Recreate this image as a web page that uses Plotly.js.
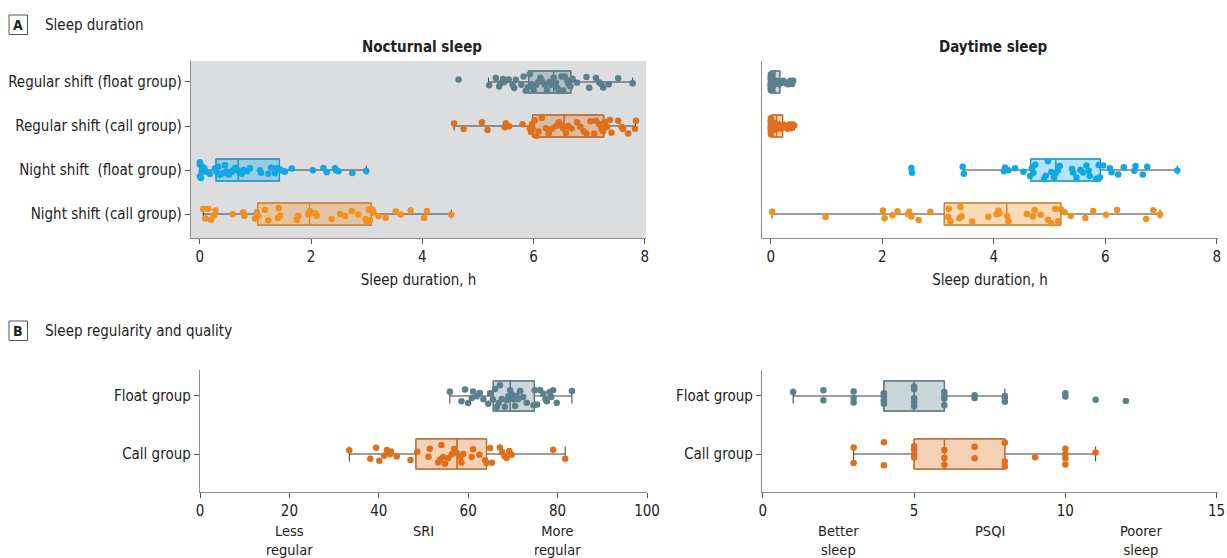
<!DOCTYPE html>
<html><head><meta charset="utf-8">
<script src="https://cdn.plot.ly/plotly-3.0.1.min.js"></script>
<style>html,body{margin:0;padding:0;background:#fff}#chart{width:1227px;height:558px}</style>
</head><body><div id="chart"></div><script>
// ---------- categories ----------
const durationCats = ['Night shift (call group)', 'Night shift\u00a0 (float group)', 'Regular shift (call group)', 'Regular shift (float group)'];
const groupCats = ['Call group', 'Float group'];
const durationTicks = [0, 2, 4, 6, 8];
const sriTicks = [0, 20, 40, 60, 80, 100];
const psqiTicks = [0, 5, 10, 15];

// ---------- nocturnal sleep (h) ----------
const nocNightCall = [0.06, 0.10, 0.15, 0.20, 0.25, 0.28, 0.59, 0.78, 0.80, 0.99, 1.02, 1.05, 1.17, 1.23, 1.40, 1.42, 1.44, 1.74, 1.77, 1.95, 1.98, 2.07, 2.10, 2.37, 2.52, 2.61, 2.73, 2.85, 2.98, 3.00, 3.04, 3.06, 3.10, 3.12, 3.21, 3.34, 3.52, 3.61, 3.79, 4.03, 4.08, 4.52];
const nocNightFloat = [0, 0, 0, 0.02, 0.03, 0.05, 0.06, 0.08, 0.10, 0.18, 0.27, 0.30, 0.33, 0.36, 0.42, 0.45, 0.48, 0.52, 0.57, 0.60, 0.64, 0.66, 0.70, 0.75, 0.78, 0.85, 0.90, 1.08, 1.10, 1.23, 1.28, 1.35, 1.38, 1.44, 1.50, 1.53, 1.65, 2.03, 2.22, 2.28, 2.43, 2.45, 2.49, 2.74, 2.99];
const nocRegCall = [4.57, 4.74, 5.07, 5.17, 5.48, 5.50, 5.56, 5.80, 5.93, 5.95, 5.97, 5.98, 6.02, 6.05, 6.09, 6.15, 6.22, 6.27, 6.33, 6.40, 6.45, 6.50, 6.53, 6.58, 6.62, 6.68, 6.78, 6.84, 6.90, 6.95, 7.02, 7.09, 7.12, 7.18, 7.22, 7.25, 7.28, 7.32, 7.37, 7.40, 7.52, 7.58, 7.61, 7.70, 7.82, 7.84];
const nocRegFloat = [4.65, 5.20, 5.32, 5.38, 5.40, 5.45, 5.47, 5.55, 5.62, 5.65, 5.68, 5.78, 5.82, 5.86, 5.90, 5.93, 5.96, 6.00, 6.04, 6.08, 6.12, 6.15, 6.20, 6.24, 6.28, 6.32, 6.36, 6.40, 6.43, 6.46, 6.50, 6.53, 6.56, 6.60, 6.63, 6.66, 6.70, 6.78, 6.95, 7.00, 7.12, 7.18, 7.22, 7.25, 7.35, 7.52, 7.78];
// box statistics, same order as durationCats
const nocQ1 = [1.04, 0.29, 5.98, 5.91];
const nocMed = [1.97, 0.69, 6.55, 6.36];
const nocQ3 = [3.08, 1.43, 7.26, 6.67];
const nocLo = [0.06, 0.00, 4.57, 5.19];
const nocHi = [4.52, 2.99, 7.83, 7.78];

// ---------- daytime sleep (h) ----------
const dayNightCall = [0.02, 0.98, 2.01, 2.04, 2.18, 2.27, 2.46, 2.48, 2.52, 2.65, 2.86, 3.18, 3.19, 3.22, 3.38, 3.40, 3.42, 3.61, 3.90, 4.05, 4.08, 4.10, 4.24, 4.26, 4.59, 4.70, 4.73, 4.84, 4.97, 5.03, 5.10, 5.15, 5.20, 5.27, 5.38, 5.64, 5.78, 6.01, 6.21, 6.73, 6.86, 6.98];
const dayNightFloat = [2.52, 2.53, 3.44, 3.46, 4.18, 4.20, 4.26, 4.38, 4.53, 4.65, 4.68, 4.71, 4.74, 4.90, 4.93, 4.97, 5.03, 5.08, 5.11, 5.15, 5.18, 5.40, 5.42, 5.48, 5.55, 5.60, 5.66, 5.70, 5.72, 5.84, 5.88, 5.90, 5.96, 6.08, 6.11, 6.23, 6.33, 6.52, 6.54, 6.67, 6.75, 7.29];
const dayRegCall = [0, 0, 0, 0, 0, 0, 0, 0, 0, 0, 0, 0, 0.02, 0.04, 0.05, 0.07, 0.08, 0.10, 0.11, 0.12, 0.14, 0.15, 0.17, 0.18, 0.20, 0.21, 0.23, 0.25, 0.28, 0.30, 0.33, 0.36, 0.39, 0.42];
const dayRegFloat = [0, 0, 0, 0, 0, 0, 0, 0, 0, 0, 0, 0, 0, 0, 0, 0.02, 0.04, 0.05, 0.07, 0.08, 0.10, 0.12, 0.14, 0.15, 0.18, 0.20, 0.22, 0.25, 0.28, 0.31, 0.35, 0.38, 0.40];
const dayQ1 = [3.11, 4.66, 0.01, 0.00];
const dayMed = [4.23, 5.11, 0.10, 0.07];
const dayQ3 = [5.20, 5.91, 0.21, 0.16];
const dayLo = [0.02, 3.45, 0.00, 0.00];
const dayHi = [6.98, 7.29, 0.42, 0.40];

// ---------- SRI ----------
const sriCall = [33.4, 38.1, 39.4, 40.1, 41.2, 41.8, 42.5, 42.7, 44.0, 47.1, 48.6, 51.1, 51.4, 53.3, 53.7, 54.0, 54.4, 54.8, 55.5, 56.3, 56.8, 57.4, 58.2, 58.5, 58.9, 60.8, 61.1, 62.5, 63.8, 64.1, 64.9, 65.3, 67.1, 67.6, 68.1, 68.6, 69.2, 69.7, 79.0, 81.7];
const sriFloat = [55.9, 58.5, 59.3, 60.0, 60.8, 61.1, 61.9, 62.6, 63.4, 64.5, 64.9, 65.5, 66.0, 66.4, 66.8, 67.1, 67.5, 68.2, 68.6, 69.0, 69.4, 69.8, 70.2, 70.5, 70.8, 71.2, 71.6, 72.3, 73.1, 74.6, 74.9, 75.4, 76.1, 76.8, 77.3, 77.6, 78.2, 78.6, 79.0, 79.8, 83.2];
const sriQ1 = [48.3, 65.6];
const sriMed = [57.5, 69.4];
const sriQ3 = [64.1, 74.8];
const sriLo = [33.4, 55.9];
const sriHi = [81.7, 83.2];

// ---------- PSQI ----------
const psqiCall = [3, 3, 4, 4, 5, 5, 5, 5, 6, 6, 6, 7, 7, 8, 8, 8, 9, 10, 10, 10, 10, 11];
const psqiFloat = [1, 2, 2, 3, 3, 3, 4, 4, 4, 4, 4, 4, 5, 5, 5, 5, 5, 6, 6, 6, 6, 7, 7, 8, 8, 8, 10, 10, 11, 12];
const psqiQ1 = [5, 4];
const psqiMed = [6, 5];
const psqiQ3 = [8, 6];
const psqiLo = [3, 1];
const psqiHi = [11, 8];

// ---------- styling ----------
const FONT = "'Liberation Sans Narrow', 'DejaVu Sans Condensed', 'Roboto Condensed', Roboto, Arial, sans-serif";
const C_SLATE = '91,127,141', C_ORANGE = '224,111,28', C_BLUE = '15,167,230', C_LORANGE = '244,144,30';
const W = 1227, H = 558;
const px = v => v / W, py = v => 1 - v / H;

const traces = [];
function addGroup(xa, ya, cat, samples, i, st, rgb, boxW, ww, jit) {
  // whiskers (dark grey)
  traces.push({
    type: 'box', orientation: 'h', xaxis: xa, yaxis: ya, y: [cat],
    q1: [st.q1[i]], median: [st.med[i]], q3: [st.q3[i]], lowerfence: [st.lo[i]], upperfence: [st.hi[i]],
    boxpoints: false, width: boxW, whiskerwidth: ww,
    line: { color: '#3d3d3d', width: 1 }, fillcolor: 'rgba(0,0,0,0)',
    showlegend: false, hoverinfo: 'skip'
  });
  // box + jittered points
  traces.push({
    type: 'box', orientation: 'h', xaxis: xa, yaxis: ya, y: [cat], x: [samples],
    q1: [st.q1[i]], median: [st.med[i]], q3: [st.q3[i]], lowerfence: [st.q1[i]], upperfence: [st.q3[i]],
    boxpoints: 'all', jitter: jit, pointpos: 0, width: boxW, whiskerwidth: 0,
    line: { color: 'rgba(' + rgb + ',0.75)', width: 1.4 }, fillcolor: 'rgba(' + rgb + ',0.32)',
    marker: { color: 'rgb(' + rgb + ')', size: 6.5, opacity: 1 },
    showlegend: false, hoverinfo: 'skip'
  });
}
const nocSt = { q1: nocQ1, med: nocMed, q3: nocQ3, lo: nocLo, hi: nocHi };
const daySt = { q1: dayQ1, med: dayMed, q3: dayQ3, lo: dayLo, hi: dayHi };
const sriSt = { q1: sriQ1, med: sriMed, q3: sriQ3, lo: sriLo, hi: sriHi };
const psqiSt = { q1: psqiQ1, med: psqiMed, q3: psqiQ3, lo: psqiLo, hi: psqiHi };
const durColors = [C_LORANGE, C_BLUE, C_ORANGE, C_SLATE];
const nocData = [nocNightCall, nocNightFloat, nocRegCall, nocRegFloat];
const dayData = [dayNightCall, dayNightFloat, dayRegCall, dayRegFloat];
for (let i = 0; i < 4; i++) {
  addGroup('x', 'y', durationCats[i], nocData[i], i, nocSt, durColors[i], 0.5, 0.4, 0.9);
  addGroup('x2', 'y2', durationCats[i], dayData[i], i, daySt, durColors[i], 0.5, 0.4, 0.9);
}
const grpColors = [C_ORANGE, C_SLATE];
const sriData = [sriCall, sriFloat];
const psqiData = [psqiCall, psqiFloat];
for (let i = 0; i < 2; i++) {
  addGroup('x3', 'y3', groupCats[i], sriData[i], i, sriSt, grpColors[i], 0.52, 0.5, 0.85);
  addGroup('x4', 'y4', groupCats[i], psqiData[i], i, psqiSt, grpColors[i], 0.52, 0.5, 1.0);
}

const tickFont = { family: FONT, size: 15, color: '#222' };
function xAxis(dom, range, ticks, anchor, title) {
  const a = {
    domain: dom, range: range, anchor: anchor, tickvals: ticks, ticktext: ticks.map(String),
    ticks: 'outside', ticklen: 5, tickcolor: '#555', showline: true, linecolor: '#8c8c8c', linewidth: 1.2,
    showgrid: false, zeroline: false, tickfont: tickFont, fixedrange: true
  };
  if (title) a.title = { text: title, standoff: 9, font: { family: FONT, size: 15, color: '#222' } };
  return a;
}
function yAxis(dom, range, cats, anchor, labels) {
  return {
    domain: dom, range: range, anchor: anchor, type: 'category', categoryorder: 'array', categoryarray: cats,
    ticks: labels ? 'outside' : '', ticklen: 5, tickcolor: '#555', showticklabels: labels,
    showline: true, linecolor: '#8c8c8c', linewidth: 1.2, showgrid: false, zeroline: false,
    tickfont: tickFont, fixedrange: true
  };
}
const topDom = [py(238), py(61)];
const botDom = [py(492), py(370)];
const durRange = [-0.16, 8.02];

const ann = [];
function txt(x, y, t, opts) {
  ann.push(Object.assign({ xref: 'paper', yref: 'paper', x: px(x), y: py(y), text: t, showarrow: false,
    xanchor: 'center', yanchor: 'middle', font: { family: FONT, size: 15, color: '#222' } }, opts || {}));
}
txt(18, 24.5, 'A', { font: { family: FONT, size: 14, color: '#222', weight: 700 } });
txt(43, 25, 'Sleep duration', { xanchor: 'left' });
txt(18, 331, 'B', { font: { family: FONT, size: 14, color: '#222', weight: 700 } });
txt(43, 331, 'Sleep regularity and quality', { xanchor: 'left' });
txt(422, 47, 'Nocturnal sleep', { font: { family: FONT, size: 15, color: '#222', weight: 700 } });
txt(993, 47, 'Daytime sleep', { font: { family: FONT, size: 15, color: '#222', weight: 700 } });
function axisNote(xa, xv, y, t) {
  ann.push({ xref: xa, yref: 'paper', x: xv, y: py(y), text: t, showarrow: false, xanchor: 'center', yanchor: 'top',
    font: { family: FONT, size: 14.5, color: '#222' } });
}
axisNote('x3', 20, 521, 'Less<br>regular');
axisNote('x3', 50, 521, 'SRI');
axisNote('x3', 80, 521, 'More<br>regular');
axisNote('x4', 2.5, 521, 'Better<br>sleep');
axisNote('x4', 7.5, 521, 'PSQI');
axisNote('x4', 12.5, 521, 'Poorer<br>sleep');

const shapes = [
  { type: 'rect', xref: 'x domain', yref: 'y domain', x0: 0, x1: 1, y0: 0, y1: 1, fillcolor: '#dcdddf', line: { width: 0 }, layer: 'below' },
  { type: 'rect', xref: 'paper', yref: 'paper', x0: px(9), x1: px(27.5), y0: py(34.5), y1: py(15), line: { color: '#555', width: 1 } },
  { type: 'rect', xref: 'paper', yref: 'paper', x0: px(9), x1: px(27.5), y0: py(340.5), y1: py(321), line: { color: '#555', width: 1 } }
];

const layout = {
  width: W, height: H, margin: { l: 0, r: 0, t: 0, b: 0 },
  paper_bgcolor: '#fff', plot_bgcolor: 'rgba(0,0,0,0)', boxmode: 'overlay', showlegend: false,
  font: { family: FONT, size: 14, color: '#222' },
  xaxis: xAxis([px(191), px(646)], durRange, durationTicks, 'y', 'Sleep duration, h'),
  yaxis: yAxis(topDom, [-0.545, 3.477], durationCats, 'x', true),
  xaxis2: xAxis([px(762), px(1218)], durRange, durationTicks, 'y2', 'Sleep duration, h'),
  yaxis2: yAxis(topDom, [-0.545, 3.477], durationCats, 'x2', false),
  xaxis3: xAxis([px(200), px(647)], [0, 100], sriTicks, 'y3', null),
  yaxis3: yAxis(botDom, [-0.655, 1.448], groupCats, 'x3', true),
  xaxis4: xAxis([px(762), px(1217.5)], [-0.03, 15.03], psqiTicks, 'y4', null),
  yaxis4: yAxis(botDom, [-0.655, 1.448], groupCats, 'x4', true),
  annotations: ann, shapes: shapes
};
Plotly.newPlot('chart', traces, layout, { displayModeBar: false, staticPlot: true });
</script></body></html>
